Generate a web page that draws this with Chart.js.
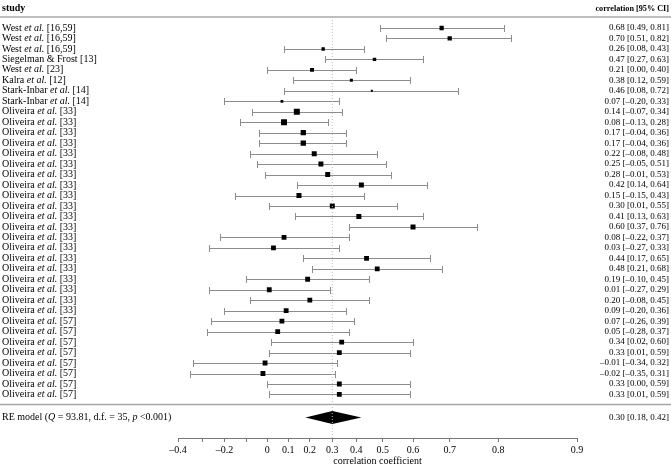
<!DOCTYPE html>
<html>
<head>
<meta charset="utf-8">
<script src="https://cdn.jsdelivr.net/npm/chart.js@4.4.1/dist/chart.umd.min.js"></script>
<style>
  html, body { margin: 0; padding: 0; background: #fff; }
</style>
</head>
<body>
<canvas id="forest" width="671" height="467"></canvas>
<script>
// studies, top to bottom
const studies = [
  'West et al. [16,59]', 'West et al. [16,59]', 'West et al. [16,59]',
  'Siegelman & Frost [13]', 'West et al. [23]', 'Kalra et al. [12]',
  'Stark-Inbar et al. [14]', 'Stark-Inbar et al. [14]',
  'Oliveira et al. [33]', 'Oliveira et al. [33]', 'Oliveira et al. [33]', 'Oliveira et al. [33]',
  'Oliveira et al. [33]', 'Oliveira et al. [33]', 'Oliveira et al. [33]', 'Oliveira et al. [33]',
  'Oliveira et al. [33]', 'Oliveira et al. [33]', 'Oliveira et al. [33]', 'Oliveira et al. [33]',
  'Oliveira et al. [33]', 'Oliveira et al. [33]', 'Oliveira et al. [33]', 'Oliveira et al. [33]',
  'Oliveira et al. [33]', 'Oliveira et al. [33]', 'Oliveira et al. [33]', 'Oliveira et al. [33]',
  'Oliveira et al. [57]', 'Oliveira et al. [57]', 'Oliveira et al. [57]', 'Oliveira et al. [57]',
  'Oliveira et al. [57]', 'Oliveira et al. [57]', 'Oliveira et al. [57]', 'Oliveira et al. [57]'
];
const estimates = [0.68, 0.70, 0.26, 0.47, 0.21, 0.38, 0.46, 0.07,
  0.14, 0.08, 0.17, 0.17, 0.22, 0.25, 0.28, 0.42, 0.15, 0.30, 0.41, 0.60,
  0.08, 0.03, 0.44, 0.48, 0.19, 0.01, 0.20, 0.09,
  0.07, 0.05, 0.34, 0.33, -0.01, -0.02, 0.33, 0.33];
const lower = [0.49, 0.51, 0.08, 0.27, 0.00, 0.12, 0.08, -0.20,
  -0.07, -0.13, -0.04, -0.04, -0.08, -0.05, -0.01, 0.14, -0.15, 0.01, 0.13, 0.37,
  -0.22, -0.27, 0.17, 0.21, -0.10, -0.27, -0.08, -0.20,
  -0.26, -0.28, 0.02, 0.01, -0.34, -0.35, 0.00, 0.01];
const upper = [0.81, 0.82, 0.43, 0.63, 0.40, 0.59, 0.72, 0.33,
  0.34, 0.28, 0.36, 0.36, 0.48, 0.51, 0.53, 0.64, 0.43, 0.55, 0.63, 0.76,
  0.37, 0.33, 0.65, 0.68, 0.45, 0.29, 0.45, 0.36,
  0.39, 0.37, 0.60, 0.59, 0.32, 0.31, 0.59, 0.59];
// study weights (%)
const weights = [2.2, 2.2, 1.4, 1.4, 1.9, 1.1, 0.5, 0.9,
  4.3, 4.3, 3.4, 3.4, 3.0, 3.0, 3.0, 3.0, 3.0, 3.0, 3.0, 3.0,
  2.8, 2.8, 2.8, 2.8, 2.8, 2.8, 2.8, 2.8,
  2.8, 2.8, 2.8, 2.8, 2.8, 2.8, 2.8, 2.8];

const pooledEstimate = 0.30;
const pooledCI = [0.18, 0.42];
const modelLabel = [['RE model (', false], ['Q', true], [' = 93.81, d.f. = 35, ', false], ['p', true], [' <0.001)', false]];

const xTickValues = [-0.4, -0.3, -0.2, -0.1, 0, 0.1, 0.2, 0.3, 0.4, 0.5, 0.6, 0.7, 0.8, 0.9];
const xTickLabels = ['–0.4', '', '–0.2', '', '0', '0.1', '0.2', '0.3', '0.4', '0.5', '0.6', '0.7', '0.8', '0.9'];

// axis is on the Fisher z scale, labelled in r
const z = r => Math.atanh(r);
const fmt = v => v.toFixed(2).replace('-', '–');

const SERIF = '"Liberation Serif", "Times New Roman", serif';
const HEADER_ROW = -1.85, TOP_RULE = -1.05, BOTTOM_RULE = 35.95, MODEL_ROW = 37.2;
const Y_MIN = -2.27, Y_MAX = 39.16;

function richText(ctx, parts, x, y, size, align) {
  const fontOf = it => (it ? 'italic ' : '') + size + 'px ' + SERIF;
  let total = 0;
  parts.forEach(([t, it]) => { ctx.font = fontOf(it); total += ctx.measureText(t).width; });
  let cx = align === 'right' ? x - total : x;
  ctx.textAlign = 'left';
  parts.forEach(([t, it]) => {
    ctx.font = fontOf(it);
    ctx.fillText(t, cx, y);
    cx += ctx.measureText(t).width;
  });
}

function studyParts(name) {
  const i = name.indexOf('et al.');
  if (i < 0) return [[name, false]];
  return [[name.slice(0, i), false], ['et al.', true], [name.slice(i + 6), false]];
}

const forestPlugin = {
  id: 'forest',
  beforeDatasetsDraw(chart) {
    const { ctx, scales: { x, y } } = chart;
    ctx.save();
    // rules
    ctx.strokeStyle = '#a8a8a8';
    ctx.lineWidth = 1.5;
    [TOP_RULE, BOTTOM_RULE].forEach(r => {
      const py = y.getPixelForValue(r);
      ctx.beginPath(); ctx.moveTo(0, py); ctx.lineTo(chart.width, py); ctx.stroke();
    });
    // error bars
    ctx.strokeStyle = '#8c8c8c';
    ctx.lineWidth = 1;
    estimates.forEach((e, i) => {
      const py = Math.round(y.getPixelForValue(i)) + 0.5;
      const x1 = Math.round(x.getPixelForValue(z(lower[i]))) + 0.5;
      const x2 = Math.round(x.getPixelForValue(z(upper[i]))) + 0.5;
      ctx.beginPath();
      ctx.moveTo(x1, py); ctx.lineTo(x2, py);
      ctx.moveTo(x1, py - 3.5); ctx.lineTo(x1, py + 3.5);
      ctx.moveTo(x2, py - 3.5); ctx.lineTo(x2, py + 3.5);
      ctx.stroke();
    });
    // pooled diamond
    const my = y.getPixelForValue(MODEL_ROW);
    ctx.fillStyle = '#000';
    ctx.beginPath();
    ctx.moveTo(x.getPixelForValue(z(pooledCI[0])), my);
    ctx.lineTo(x.getPixelForValue(z(pooledEstimate)), my - 6.5);
    ctx.lineTo(x.getPixelForValue(z(pooledCI[1])), my);
    ctx.lineTo(x.getPixelForValue(z(pooledEstimate)), my + 6.5);
    ctx.closePath();
    ctx.fill();
    ctx.restore();
  },
  afterDraw(chart) {
    const { ctx, scales: { y } } = chart;
    const left = 2, right = chart.width - 2;
    ctx.save();
    ctx.fillStyle = '#000';
    ctx.textBaseline = 'middle';
    const hy = y.getPixelForValue(HEADER_ROW);
    ctx.font = 'bold 10px ' + SERIF;
    ctx.textAlign = 'left';
    ctx.fillText('study', left, hy);
    ctx.font = 'bold 8.2px ' + SERIF;
    ctx.textAlign = 'right';
    ctx.fillText('correlation [95% CI]', right, hy);
    studies.forEach((s, i) => {
      const py = y.getPixelForValue(i);
      richText(ctx, studyParts(s), left, py, 10, 'left');
      ctx.font = '9px ' + SERIF;
      ctx.textAlign = 'right';
      ctx.fillText(fmt(estimates[i]) + ' [' + fmt(lower[i]) + ', ' + fmt(upper[i]) + ']', right, py);
    });
    const my = y.getPixelForValue(MODEL_ROW);
    richText(ctx, modelLabel, left, my, 10, 'left');
    ctx.font = '9px ' + SERIF;
    ctx.textAlign = 'right';
    ctx.fillText(fmt(pooledEstimate) + ' [' + fmt(pooledCI[0]) + ', ' + fmt(pooledCI[1]) + ']', right, my);
    ctx.restore();
  }
};

Chart.defaults.font.family = SERIF;
Chart.defaults.color = '#000';

new Chart(document.getElementById('forest'), {
  type: 'scatter',
  data: {
    datasets: [
      {
        label: 'pooled estimate',
        data: [{ x: z(pooledEstimate), y: TOP_RULE }, { x: z(pooledEstimate), y: Y_MAX }],
        showLine: true,
        borderColor: '#bdbdbd',
        borderWidth: 1,
        borderDash: [1, 2],
        pointRadius: 0
      },
      {
        label: 'studies',
        data: estimates.map((r, i) => ({ x: z(r), y: i })),
        pointStyle: 'rect',
        pointRadius: weights.map(w => 2.88 * Math.sqrt(w) / Math.SQRT2),
        backgroundColor: '#000',
        borderWidth: 0,
        pointHoverRadius: 0
      }
    ]
  },
  options: {
    responsive: false,
    animation: false,
    devicePixelRatio: 1,
    layout: { padding: { left: 178, right: 94, top: 0, bottom: 0 } },
    scales: {
      x: {
        type: 'linear',
        min: z(-0.4),
        max: z(0.9),
        afterBuildTicks: scale => { scale.ticks = xTickValues.map(v => ({ value: z(v) })); },
        afterFit: scale => { scale.height = 29; },
        ticks: {
          autoSkip: false,
          maxRotation: 0,
          padding: 2,
          font: { size: 10 },
          callback: (val, idx) => xTickLabels[idx]
        },
        grid: { drawOnChartArea: false, drawTicks: true, tickLength: 4, color: '#777' },
        border: { color: '#777' },
        title: { display: true, text: 'correlation coefficient', font: { size: 10 }, padding: 0 }
      },
      y: {
        type: 'linear',
        display: false,
        reverse: true,
        min: Y_MIN,
        max: Y_MAX
      }
    },
    plugins: {
      legend: { display: false },
      tooltip: { enabled: false }
    }
  },
  plugins: [forestPlugin]
});
</script>
</body>
</html>
